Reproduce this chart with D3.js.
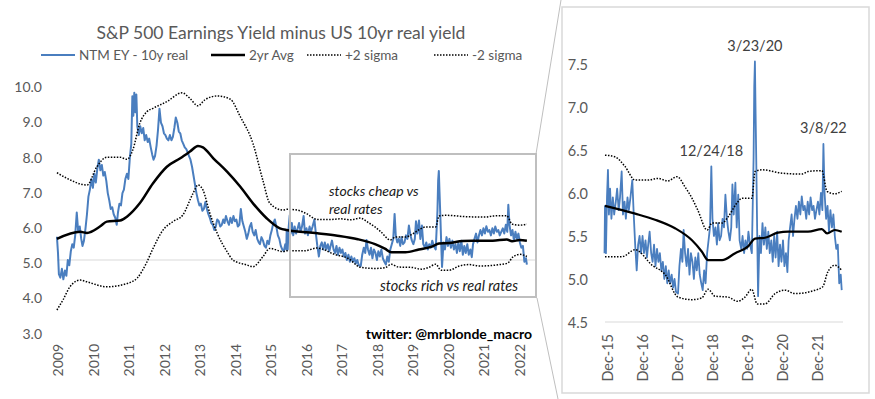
<!DOCTYPE html>
<html>
<head>
<meta charset="utf-8">
<script src="https://cdn.jsdelivr.net/npm/d3@7"></script>
<style>
body { margin: 0; background: #fff; }
svg text { font-family: Lato, "Open Sans", sans-serif; }
</style>
</head>
<body>
<div id="chart"></div>
<script>
// NTM EY - 10y real
var eyDates = [
 "2009-06-20","2009-07-01","2009-07-10","2009-07-25","2009-08-10","2009-08-25","2009-09-10","2009-09-25","2009-10-10","2009-10-25",
 "2009-11-10","2009-11-25","2009-12-10","2009-12-25","2010-01-10","2010-01-25","2010-02-10","2010-02-25","2010-03-10","2010-03-25",
 "2010-04-10","2010-04-25","2010-05-10","2010-05-25","2010-06-10","2010-06-25","2010-07-10","2010-07-25","2010-08-10","2010-08-25",
 "2010-09-10","2010-09-25","2010-10-10","2010-10-25","2010-11-10","2010-11-25","2010-12-10","2010-12-25","2011-01-10","2011-01-25",
 "2011-02-10","2011-02-25","2011-03-10","2011-03-25","2011-04-10","2011-04-25","2011-05-10","2011-05-25","2011-06-10","2011-06-25",
 "2011-07-10","2011-07-25","2011-08-05","2011-08-15","2011-08-25","2011-09-05","2011-09-15","2011-09-25","2011-10-10","2011-10-25",
 "2011-11-10","2011-11-25","2011-12-10","2011-12-25","2012-01-10","2012-01-25","2012-02-10","2012-02-25","2012-03-10","2012-03-25",
 "2012-04-10","2012-04-25","2012-05-10","2012-05-25","2012-06-10","2012-06-25","2012-07-10","2012-07-25","2012-08-10","2012-08-25",
 "2012-09-10","2012-09-25","2012-10-10","2012-10-25","2012-11-10","2012-11-25","2012-12-10","2012-12-25","2013-01-10","2013-01-25",
 "2013-02-10","2013-02-25","2013-03-10","2013-03-25","2013-04-10","2013-04-25","2013-05-10","2013-05-25","2013-06-10","2013-06-25",
 "2013-07-10","2013-07-25","2013-08-10","2013-08-25","2013-09-10","2013-09-25","2013-10-10","2013-10-25","2013-11-10","2013-11-25",
 "2013-12-10","2013-12-25","2014-01-10","2014-01-25","2014-02-10","2014-02-25","2014-03-10","2014-03-25","2014-04-10","2014-04-25",
 "2014-05-10","2014-05-25","2014-06-10","2014-06-25","2014-07-10","2014-07-25","2014-08-10","2014-08-25","2014-09-10","2014-09-25",
 "2014-10-10","2014-10-25","2014-11-10","2014-11-25","2014-12-10","2014-12-25","2015-01-10","2015-01-25","2015-02-10","2015-02-25",
 "2015-03-10","2015-03-25","2015-04-10","2015-04-25","2015-05-10","2015-05-25","2015-06-10","2015-06-25","2015-07-10","2015-07-25",
 "2015-08-10","2015-08-25","2015-09-10","2015-09-25","2015-10-10","2015-10-25","2015-11-10","2015-11-25","2015-12-05","2015-12-10",
 "2015-12-20","2015-12-31","2016-01-10","2016-01-20","2016-02-01","2016-02-15","2016-03-01","2016-03-15","2016-04-01","2016-04-15",
 "2016-05-01","2016-05-15","2016-06-01","2016-06-15","2016-07-01","2016-07-15","2016-08-01","2016-08-15","2016-09-01","2016-09-20",
 "2016-10-05","2016-10-20","2016-11-05","2016-11-20","2016-12-05","2016-12-20","2017-01-05","2017-01-20","2017-02-05","2017-02-20",
 "2017-03-05","2017-03-20","2017-04-05","2017-04-20","2017-05-05","2017-05-20","2017-06-05","2017-06-20","2017-07-05","2017-07-20",
 "2017-08-05","2017-08-20","2017-09-05","2017-09-20","2017-10-05","2017-10-20","2017-11-05","2017-11-20","2017-12-05","2017-12-20",
 "2018-01-10","2018-01-25","2018-02-10","2018-02-25","2018-03-10","2018-03-25","2018-04-10","2018-04-25","2018-05-10","2018-05-25",
 "2018-06-10","2018-06-25","2018-07-10","2018-07-25","2018-08-10","2018-08-25","2018-09-10","2018-09-25","2018-10-10","2018-10-25",
 "2018-11-10","2018-11-25","2018-12-10","2018-12-24","2019-01-05","2019-01-20","2019-02-05","2019-02-20","2019-03-05","2019-03-20",
 "2019-04-05","2019-04-20","2019-05-05","2019-05-20","2019-06-05","2019-06-20","2019-07-05","2019-07-20","2019-08-01","2019-08-15",
 "2019-09-01","2019-09-15","2019-10-01","2019-10-15","2019-11-01","2019-11-15","2019-12-01","2019-12-15","2020-01-01","2020-01-15",
 "2020-02-01","2020-02-20","2020-03-09","2020-03-16","2020-03-23","2020-03-30","2020-04-06","2020-04-15","2020-04-25","2020-05-10",
 "2020-05-25","2020-06-10","2020-06-25","2020-07-10","2020-07-25","2020-08-10","2020-08-25","2020-09-10","2020-09-25","2020-10-10",
 "2020-10-25","2020-11-10","2020-11-25","2020-12-10","2020-12-25","2021-01-10","2021-01-25","2021-02-10","2021-02-25","2021-03-10",
 "2021-03-25","2021-04-10","2021-04-25","2021-05-10","2021-05-25","2021-06-10","2021-06-25","2021-07-10","2021-07-25","2021-08-10",
 "2021-08-25","2021-09-10","2021-09-25","2021-10-10","2021-10-25","2021-11-10","2021-11-25","2021-12-10","2021-12-25","2022-01-10",
 "2022-01-25","2022-02-10","2022-02-25","2022-03-08","2022-03-20","2022-04-05","2022-04-20","2022-05-05","2022-05-20","2022-06-05",
 "2022-06-20","2022-07-05","2022-07-20","2022-08-05","2022-08-20","2022-09-05","2022-09-15"
];
var eyValues = [
 5.66,5.2,4.6,4.5,4.75,4.45,4.7,4.55,5.0,4.85,
 5.25,5.45,5.35,5.7,6.35,5.8,5.95,5.6,5.4,5.55,
 5.9,6.3,6.8,7.0,7.3,7.05,7.45,7.2,7.6,7.85,
 7.55,7.7,7.4,7.5,7.25,6.9,6.7,6.45,6.5,6.3,
 6.2,6.0,6.35,6.6,6.55,6.9,7.0,7.3,7.45,7.3,
 7.9,8.3,9.65,9.1,9.75,9.2,9.7,8.8,8.55,8.8,
 8.6,8.75,8.4,8.55,8.35,8.45,8.2,8.0,7.85,7.95,
 8.25,8.7,9.3,8.9,8.8,8.6,8.55,8.45,8.4,8.55,
 8.4,8.5,8.75,9.05,8.9,8.65,8.6,8.4,8.3,8.2,
 8.15,8.05,7.95,7.85,7.65,7.4,7.15,6.9,6.7,6.55,
 6.6,6.4,6.45,6.65,6.45,6.3,6.2,6.05,6.0,5.85,
 5.95,6.15,6.1,5.95,6.0,6.15,6.05,6.25,6.1,6.0,
 6.2,6.05,6.25,6.1,6.15,5.95,6.0,6.45,6.1,5.95,
 5.8,5.6,5.75,5.95,6.05,5.8,5.7,5.85,5.6,5.5,
 5.45,5.65,5.55,5.4,5.35,5.55,5.45,5.7,5.85,6.05,
 6.15,5.95,5.7,5.6,5.4,5.3,5.25,5.45,5.3,5.85,
 5.3,5.95,6.27,5.75,6.05,5.7,5.95,5.75,5.9,6.05,
 5.8,5.95,6.25,5.75,5.9,5.7,5.95,5.8,5.95,6.15,
 5.75,5.4,5.1,5.4,5.5,5.3,5.5,5.3,5.45,5.25,
 5.4,5.55,5.3,5.2,5.4,5.15,5.35,5.2,5.3,5.1,
 5.2,5.0,5.15,4.95,5.1,4.95,5.05,4.9,5.0,4.85,
 4.83,5.15,5.35,5.2,5.57,5.3,5.15,5.35,5.05,5.3,
 5.2,5.0,5.25,5.1,5.3,5.05,4.95,4.87,5.1,4.95,
 5.3,5.45,5.6,6.31,5.7,5.5,5.6,5.4,5.65,5.45,
 5.5,5.7,5.6,5.98,5.7,5.55,5.45,5.6,6.1,5.75,
 6.12,5.6,5.98,5.45,5.35,5.5,5.3,5.45,5.35,5.55,
 5.4,5.3,6.4,7.24,7.53,6.93,6.38,5.6,4.8,5.5,
 5.3,5.65,5.4,5.6,5.35,5.55,5.3,5.45,5.2,5.5,
 5.25,5.55,5.15,5.4,5.2,5.45,5.15,5.3,5.08,5.45,
 5.6,5.75,5.5,5.7,5.85,5.7,5.9,5.75,5.96,5.8,
 5.85,5.7,5.9,5.75,5.95,5.8,5.85,5.7,5.8,5.9,
 5.75,6.0,5.8,6.57,6.0,5.7,5.85,5.55,5.8,5.6,
 5.75,5.5,5.35,5.4,4.95,5.05,4.87
];

// 2yr Avg
var avgDates = [
 "2009-06-20","2010-02-15","2010-04-25","2010-09-05","2010-11-15","2011-04-01","2011-06-10","2011-10-20","2012-03-05","2012-07-25",
 "2012-12-10","2013-03-20","2013-06-10","2013-07-31","2013-11-15","2014-04-05","2014-08-20","2014-12-28","2015-05-20","2015-10-01",
 "2015-12-10","2016-10-20","2017-05-15","2017-12-10","2018-06-05","2018-09-15","2018-11-20","2019-04-15","2019-08-30","2020-01-12",
 "2020-03-25","2020-07-05","2020-11-20","2021-03-05","2021-09-28","2022-02-20","2022-04-15","2022-07-05","2022-09-15"
];
var avgValues = [
 5.60,5.80,5.77,5.95,6.09,6.12,6.23,6.61,7.18,7.65,
 7.89,8.08,8.24,8.20,7.89,7.51,7.08,6.61,6.18,5.90,
 5.85,5.76,5.69,5.59,5.45,5.32,5.22,5.22,5.30,5.38,
 5.47,5.48,5.54,5.55,5.55,5.58,5.53,5.57,5.55
];

// +2 sigma
var upDates = [
 "2009-06-20","2009-10-01","2010-04-25","2010-08-05","2010-11-15","2011-04-01","2011-06-10","2011-08-10","2011-10-20","2012-01-01",
 "2012-03-05","2012-07-25","2012-12-28","2013-03-20","2013-06-10","2013-08-20","2013-12-25","2014-05-08","2014-08-20","2014-12-28",
 "2015-04-08","2015-06-20","2015-11-01","2015-12-10","2016-03-25","2016-07-05","2016-10-20","2017-03-01","2017-06-15","2017-09-25",
 "2018-01-01","2018-03-25","2018-06-05","2018-08-05","2018-11-10","2019-01-01","2019-04-15","2019-06-15","2019-09-15","2019-11-10",
 "2020-02-20","2020-03-25","2020-06-05","2021-01-01","2021-07-25","2021-09-28","2022-02-20","2022-04-15","2022-07-05","2022-09-15"
];
var upValues = [
 7.48,7.32,7.13,7.65,7.92,7.92,7.86,8.13,8.88,9.21,
 9.31,9.50,9.75,9.59,9.38,9.55,9.66,9.57,9.07,8.31,
 7.27,6.61,6.42,6.44,6.42,6.31,6.15,6.15,6.17,6.14,
 6.19,6.07,5.94,5.80,5.57,5.65,5.65,5.72,5.88,5.94,
 5.94,6.25,6.27,6.23,6.22,6.25,6.26,6.02,5.99,6.02
];

// -2 sigma
var loDates = [
 "2009-06-20","2009-08-20","2009-11-01","2010-02-15","2010-04-25","2010-11-15","2011-07-01","2011-09-25","2011-12-25","2012-03-05",
 "2012-06-15","2012-09-25","2013-01-05","2013-04-20","2013-06-10","2013-07-31","2013-10-10","2013-12-25","2014-04-05","2014-06-05",
 "2014-10-25","2014-12-28","2015-04-08","2015-06-20","2015-11-01","2015-12-10","2016-06-05","2016-10-20","2017-04-15","2017-08-30",
 "2018-01-10","2018-06-05","2018-09-15","2018-11-20","2019-02-01","2019-06-15","2019-09-25","2019-12-10","2020-02-20","2020-04-15",
 "2020-07-05","2020-10-20","2021-02-01","2021-05-15","2021-12-10","2022-03-01","2022-04-22","2022-07-05","2022-09-15"
];
var loValues = [
 3.58,3.86,4.24,4.43,4.38,4.24,4.35,4.49,4.90,5.33,
 5.85,6.09,6.28,6.89,7.13,6.99,6.33,5.76,5.24,5.00,
 4.86,4.81,5.09,5.33,5.24,5.26,5.26,5.34,5.16,5.05,
 4.79,4.76,4.78,4.88,4.80,4.79,4.74,4.79,4.88,4.71,
 4.71,4.83,4.87,4.83,4.87,4.91,5.08,5.16,5.10
];

// axes
var leftYTicks = [3, 4, 5, 6, 7, 8, 9, 10];
var leftXTicks = ["2009-07-01","2010-07-01","2011-07-01","2012-07-01","2013-07-01","2014-07-01","2015-07-01",
                  "2016-07-01","2017-07-01","2018-07-01","2019-07-01","2020-07-01","2021-07-01","2022-07-01"];
var rightYTicks = [4.5, 5.0, 5.5, 6.0, 6.5, 7.0, 7.5];
var rightXTicks = ["2015-12-31","2016-12-31","2017-12-31","2018-12-31","2019-12-31","2020-12-31","2021-12-31"];

var legendLabels = ["NTM EY - 10y real", "2yr Avg", "+2 sigma", "-2 sigma"];
var callouts = [
	{ date: "2018-12-24", label: "12/24/18" },
	{ date: "2020-03-23", label: "3/23/20" },
	{ date: "2022-03-08", label: "3/8/22" }
];

var parseDate = d3.timeParse("%Y-%m-%d");
var formatYear = d3.timeFormat("%Y");
var formatMonYr = d3.timeFormat("%b-%y");

function zipSeries(dates, values) {
	return dates.map(function(d, i){ return { date: parseDate(d), value: values[i] }; });
}

var ey = zipSeries(eyDates, eyValues);
var avg = zipSeries(avgDates, avgValues);
var up = zipSeries(upDates, upValues);
var lo = zipSeries(loDates, loValues);

var blue = "#4a7ebf";
var grey = "#595959";

var svg = d3.select("#chart")
	.append("svg")
	.attr("width", 875)
	.attr("height", 399);

// title
svg.append("text")
	.attr("x", 281)
	.attr("y", 32)
	.attr("text-anchor", "middle")
	.attr("dominant-baseline", "central")
	.attr("font-size", "17.5px")
	.attr("fill", grey)
	.text("S&P 500 Earnings Yield minus US 10yr real yield");

// legend
var legendX = [41, 211, 307, 434];
var legendStyle = [
	{ color: blue, width: 2, dash: null },
	{ color: "#000", width: 2.5, dash: null },
	{ color: "#000", width: 1.5, dash: "1.5,1.5" },
	{ color: "#000", width: 1.5, dash: "1.5,1.5" }
];
var legend = svg.append("g").attr("class", "legend");
legendLabels.forEach(function(lab, i){
	var s = legendStyle[i];
	legend.append("line")
		.attr("x1", legendX[i]).attr("x2", legendX[i] + 34)
		.attr("y1", 55).attr("y2", 55)
		.attr("stroke", s.color)
		.attr("stroke-width", s.width)
		.attr("stroke-dasharray", s.dash);
	legend.append("text")
		.attr("x", legendX[i] + 38)
		.attr("y", 55)
		.attr("dominant-baseline", "central")
		.attr("font-size", "13.5px")
		.attr("fill", grey)
		.text(lab);
});

// ---------- left chart ----------
var x = d3.scaleTime()
	.domain([parseDate("2009-07-01"), parseDate("2022-07-01")])
	.range([58, 519.5]);
var y = d3.scaleLinear()
	.domain([3, 10])
	.range([330.4, 84]);

var g = svg.append("g").attr("class", "left");

// gridline at 5.0
g.append("line")
	.attr("x1", 57).attr("x2", 536)
	.attr("y1", y(5)).attr("y2", y(5))
	.attr("stroke", "#d9d9d9")
	.attr("stroke-width", 1);

var yAxisL = g.append("g")
	.attr("transform", "translate(42,0)")
	.call(d3.axisLeft(y).tickValues(leftYTicks).tickSize(0).tickPadding(0)
		.tickFormat(d3.format(".1f")));
yAxisL.select(".domain").remove();
yAxisL.selectAll("text")
	.attr("font-size", "14px")
	.attr("fill", grey)
	.attr("dy", "0.55em");

var xAxisL = g.append("g")
	.attr("transform", "translate(0,344)")
	.call(d3.axisBottom(x).tickValues(leftXTicks.map(parseDate)).tickSize(0)
		.tickFormat(formatYear));
xAxisL.select(".domain").remove();
xAxisL.selectAll("text")
	.attr("transform", "rotate(-90)")
	.attr("x", 0)
	.attr("y", 0)
	.attr("dy", "0.35em")
	.attr("text-anchor", "end")
	.attr("font-size", "14px")
	.attr("fill", grey);

var lineL = d3.line()
	.x(function(d){ return x(d.date); })
	.y(function(d){ return y(d.value); });

g.append("path").datum(ey)
	.attr("d", lineL).attr("fill", "none")
	.attr("stroke", blue).attr("stroke-width", 2).attr("stroke-linejoin", "round");
g.append("path").datum(avg)
	.attr("d", lineL.curve(d3.curveMonotoneX)).attr("fill", "none")
	.attr("stroke", "#000").attr("stroke-width", 2.5);
[up, lo].forEach(function(s){
	g.append("path").datum(s)
		.attr("d", lineL.curve(d3.curveMonotoneX)).attr("fill", "none")
		.attr("stroke", "#000").attr("stroke-width", 1.5)
		.attr("stroke-dasharray", "1.5,1.5");
});

// highlight box
g.append("rect")
	.attr("x", 290).attr("y", 154)
	.attr("width", 246).attr("height", 143)
	.attr("fill", "none")
	.attr("stroke", "#bfbfbf")
	.attr("stroke-width", 2);

g.append("text")
	.attr("x", 329).attr("y", 190)
	.attr("dominant-baseline", "central")
	.attr("font-size", "14px").attr("font-style", "italic")
	.attr("fill", "#1a1a1a")
	.text("stocks cheap vs");
g.append("text")
	.attr("x", 329).attr("y", 208)
	.attr("dominant-baseline", "central")
	.attr("font-size", "14px").attr("font-style", "italic")
	.attr("fill", "#1a1a1a")
	.text("real rates");
g.append("text")
	.attr("x", 518).attr("y", 285)
	.attr("text-anchor", "end")
	.attr("dominant-baseline", "central")
	.attr("font-size", "14.5px").attr("font-style", "italic")
	.attr("fill", "#1a1a1a")
	.text("stocks rich vs real rates");

g.append("text")
	.attr("x", 532).attr("y", 333)
	.attr("text-anchor", "end")
	.attr("dominant-baseline", "central")
	.attr("font-size", "14px").attr("font-weight", "bold")
	.attr("fill", "#000")
	.text("twitter: @mrblonde_macro");

// connector lines to zoom panel
svg.append("line")
	.attr("x1", 536).attr("y1", 154).attr("x2", 561).attr("y2", 0)
	.attr("stroke", "#bfbfbf").attr("stroke-width", 1);
svg.append("line")
	.attr("x1", 537).attr("y1", 298).attr("x2", 558).attr("y2", 399)
	.attr("stroke", "#bfbfbf").attr("stroke-width", 1);

// ---------- right (zoom) panel ----------
var p = svg.append("g").attr("class", "zoom");
p.append("rect")
	.attr("x", 562).attr("y", 7)
	.attr("width", 307).attr("height", 386)
	.attr("fill", "#fff")
	.attr("stroke", "#d9d9d9")
	.attr("stroke-width", 1.5);

var x2 = d3.scaleTime()
	.domain([parseDate("2015-12-31"), parseDate("2021-12-31")])
	.range([607, 817]);
var y2 = d3.scaleLinear()
	.domain([4.5, 7.5])
	.range([322, 64]);

p.append("line")
	.attr("x1", 605).attr("x2", 843)
	.attr("y1", y2(4.5)).attr("y2", y2(4.5))
	.attr("stroke", "#d9d9d9").attr("stroke-width", 1);

var yAxisR = p.append("g")
	.attr("transform", "translate(588,0)")
	.call(d3.axisLeft(y2).tickValues(rightYTicks).tickSize(0).tickPadding(0)
		.tickFormat(d3.format(".1f")));
yAxisR.select(".domain").remove();
yAxisR.selectAll("text")
	.attr("font-size", "14.5px")
	.attr("fill", grey)
	.attr("dy", "0.4em");

var xAxisR = p.append("g")
	.attr("transform", "translate(0,334)")
	.call(d3.axisBottom(x2).tickValues(rightXTicks.map(parseDate)).tickSize(0)
		.tickFormat(formatMonYr));
xAxisR.select(".domain").remove();
xAxisR.selectAll("text")
	.attr("transform", "rotate(-90)")
	.attr("x", 0)
	.attr("y", 0)
	.attr("dy", "0.35em")
	.attr("text-anchor", "end")
	.attr("font-size", "14.5px")
	.attr("fill", grey);

var cut = parseDate("2015-12-01");
function recent(s){ return s.filter(function(d){ return d.date >= cut; }); }

var lineR = d3.line()
	.x(function(d){ return x2(d.date); })
	.y(function(d){ return y2(d.value); });

p.append("path").datum(recent(ey))
	.attr("d", lineR).attr("fill", "none")
	.attr("stroke", blue).attr("stroke-width", 1.8).attr("stroke-linejoin", "round");
p.append("path").datum(recent(avg))
	.attr("d", lineR.curve(d3.curveMonotoneX)).attr("fill", "none")
	.attr("stroke", "#000").attr("stroke-width", 2.2);
[up, lo].forEach(function(s){
	p.append("path").datum(recent(s))
		.attr("d", lineR.curve(d3.curveMonotoneX)).attr("fill", "none")
		.attr("stroke", "#000").attr("stroke-width", 1.5)
		.attr("stroke-dasharray", "1.5,1.5");
});

// callouts above spikes
callouts.forEach(function(c){
	var d = parseDate(c.date);
	var v = eyValues[eyDates.indexOf(c.date)];
	p.append("text")
		.attr("x", x2(d))
		.attr("y", y2(v) - 16)
		.attr("text-anchor", "middle")
		.attr("dominant-baseline", "central")
		.attr("font-size", "14.5px")
		.attr("fill", "#404040")
		.text(c.label);
});
</script>
</body>
</html>
